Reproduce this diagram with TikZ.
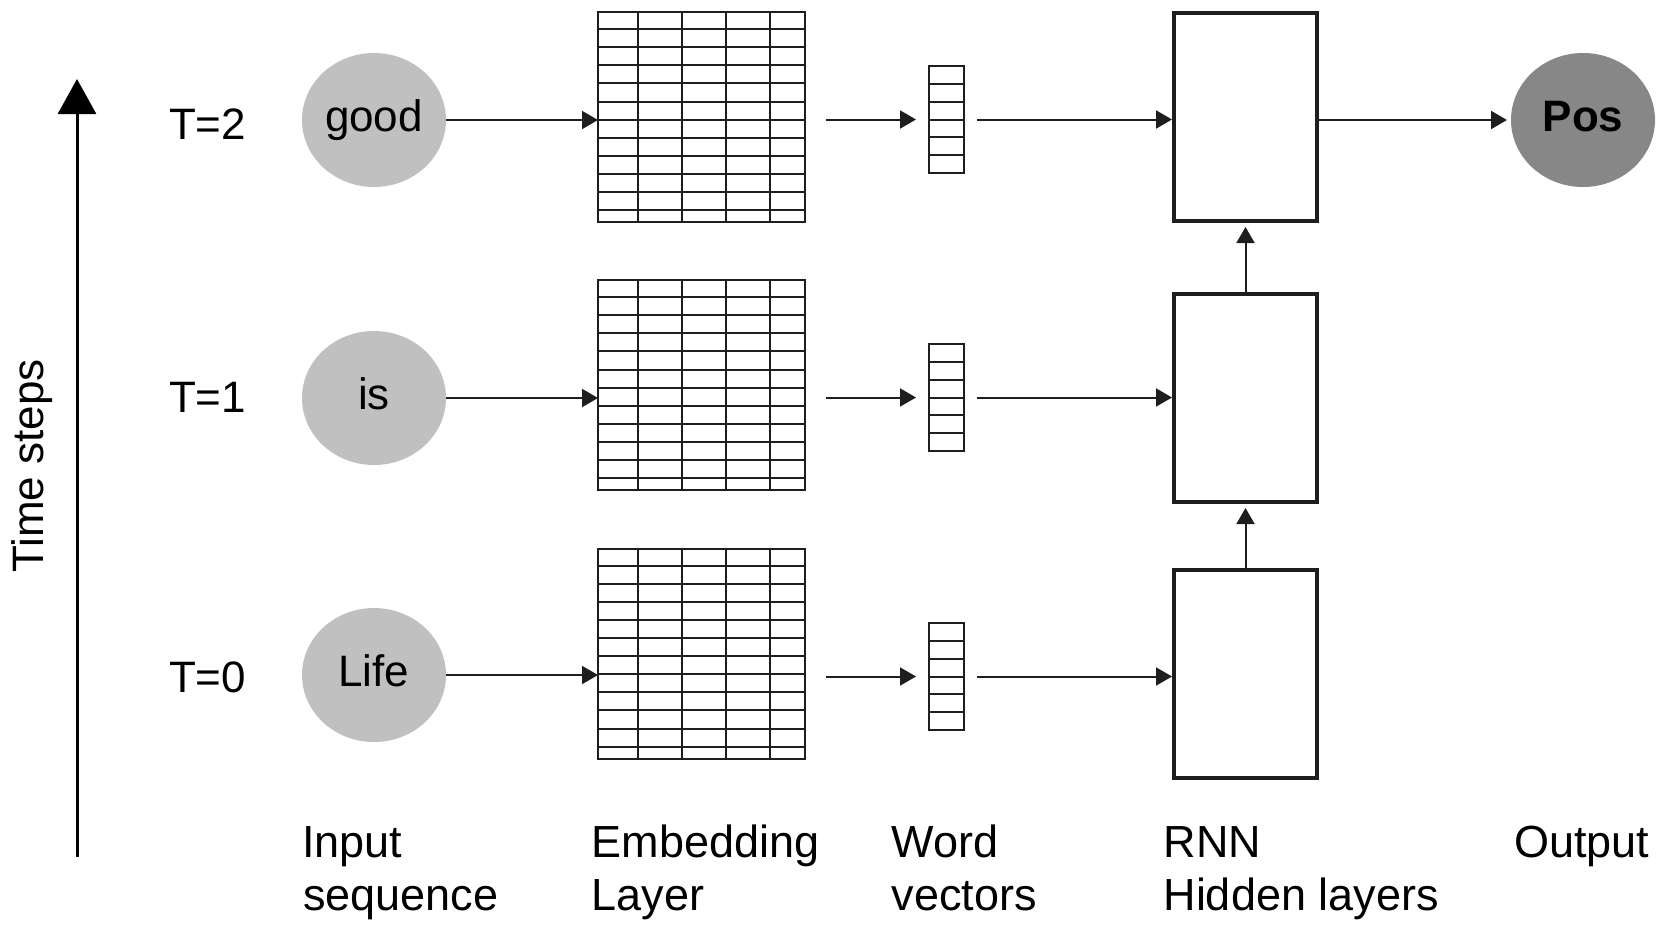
\documentclass[tikz,border=0pt]{standalone}
\usepackage{fontspec}
\setmainfont{Liberation Sans}
\usetikzlibrary{arrows.meta,shapes.geometric,calc}
\definecolor{lightc}{HTML}{C0C0C0}
\definecolor{darkc}{HTML}{878787}
\definecolor{linec}{HTML}{1E1E1E}
\begin{document}
\begin{tikzpicture}[x=1pt,y=1pt,
  every node/.style={inner sep=0pt, outer sep=0pt},
  lbl/.style={font=\fontsize{44}{50}\selectfont, text=black},
  botlbl/.style={font=\fontsize{45}{50}\selectfont, text=black, anchor=base west},
  wordc/.style={ellipse, fill=lightc, minimum width=144pt, minimum height=134pt,
    font=\fontsize{44}{50}\selectfont, text height=31.5pt, text depth=9pt},
  outc/.style={wordc, fill=darkc, font=\fontsize{44}{50}\selectfont\bfseries},
  gridbox/.style={draw=linec, line width=2pt, minimum width=207pt, minimum height=210pt},
  gridline/.style={draw=linec, line width=2pt},
  vecbox/.style={draw=linec, line width=2pt, minimum width=35pt, minimum height=107pt},
  rnnbox/.style={draw=linec, line width=4pt, minimum width=143pt, minimum height=208pt},
  arr/.style={draw=linec, line width=2pt, -{Triangle[length=16pt,width=18pt]}},
  bigarr/.style={draw=black, line width=3pt, -{Triangle[length=35pt,width=38pt]}}
]
\useasboundingbox (0,0) rectangle (1665,-929);

% time axis
\coordinate (tb) at (77,-857);
\coordinate (tt) at (77,-79);
\draw[bigarr] (tb) -- (tt);
\node[lbl, rotate=90, anchor=base] (ts) at (43,-466) {Time steps};

% time labels
\node[lbl, anchor=base west] (t2) at (169,-139) {T=2};
\node[lbl, anchor=base west] (t1) at (169,-412) {T=1};
\node[lbl, anchor=base west] (t0) at (169,-692) {T=0};

% input words
\node[wordc] (good) at (374,-120) {good};
\node[wordc] (is) at (374,-398) {is};
\node[wordc] (life) at (374,-675) {Life};

% embedding grids
\node[gridbox] (grid1) at (701.5,-117) {};
\node[gridbox] (grid2) at (701.5,-385) {};
\node[gridbox] (grid3) at (701.5,-653.5) {};
\foreach \g in {grid1,grid2,grid3}{
  \foreach \c in {39.5,83.5,128,172}
    \draw[gridline] ($(\g.north west)+(\c,0)$) -- ($(\g.south west)+(\c,0)$);
  \foreach \k in {1,...,11}
    \draw[gridline] ($(\g.north west)+(0,{-18.1*\k+1})$) -- ($(\g.north east)+(0,{-18.1*\k+1})$);
}

% word vectors
\node[vecbox] (vec1) at (946.5,-119.5) {};
\node[vecbox] (vec2) at (946.5,-397.5) {};
\node[vecbox] (vec3) at (946.5,-676.5) {};
\foreach \v in {vec1,vec2,vec3}{
  \foreach \k in {1,...,5}
    \draw[gridline] ($(\v.north west)+(0,{-107/6*\k})$) -- ($(\v.north east)+(0,{-107/6*\k})$);
}

% RNN boxes
\node[rnnbox] (box1) at (1245.5,-117) {};
\node[rnnbox] (box2) at (1245.5,-398) {};
\node[rnnbox] (box3) at (1245.5,-673.5) {};

% output
\node[outc] (pos) at (1583,-120) {Pos};

% connectors
\draw[arr] (good.east) -- (good.east -| grid1.west);
\draw[arr] (is.east) -- (is.east -| grid2.west);
\draw[arr] (life.east) -- (life.east -| grid3.west);

\draw[arr, shorten <=21pt, shorten >=13pt] (vec1.west -| grid1.east) -- (vec1.west);
\draw[arr, shorten <=21pt, shorten >=13pt] (vec2.west -| grid2.east) -- (vec2.west);
\draw[arr, shorten <=21pt, shorten >=13pt] (vec3.west -| grid3.east) -- (vec3.west);

\draw[arr, shorten <=13pt, shorten >=2pt] (vec1.east) -- (vec1.east -| box1.west);
\draw[arr, shorten <=13pt, shorten >=2pt] (vec2.east) -- (vec2.east -| box2.west);
\draw[arr, shorten <=13pt, shorten >=2pt] (vec3.east) -- (vec3.east -| box3.west);

\draw[arr, shorten <=2pt, shorten >=4pt] (pos.west -| box1.east) -- (pos.west);

\draw[arr, shorten <=2pt, shorten >=6pt] (box2.north) -- (box1.south);
\draw[arr, shorten <=2pt, shorten >=6pt] (box3.north) -- (box2.south);

% bottom labels
\node[botlbl] (in1) at (302,-857) {Input};
\node[botlbl] (in2) at (303,-910) {sequence};
\node[botlbl] (em1) at (591.5,-857) {Embedding};
\node[botlbl] (em2) at (591.5,-910) {Layer};
\node[botlbl] (wv1) at (891.5,-857) {Word};
\node[botlbl] (wv2) at (891.5,-910) {vectors};
\node[botlbl] (rn1) at (1163.5,-857) {RNN};
\node[botlbl] (rn2) at (1163.5,-910) {Hidden layers};
\node[botlbl] (ou1) at (1514,-857) {Output};
\end{tikzpicture}
\end{document}
